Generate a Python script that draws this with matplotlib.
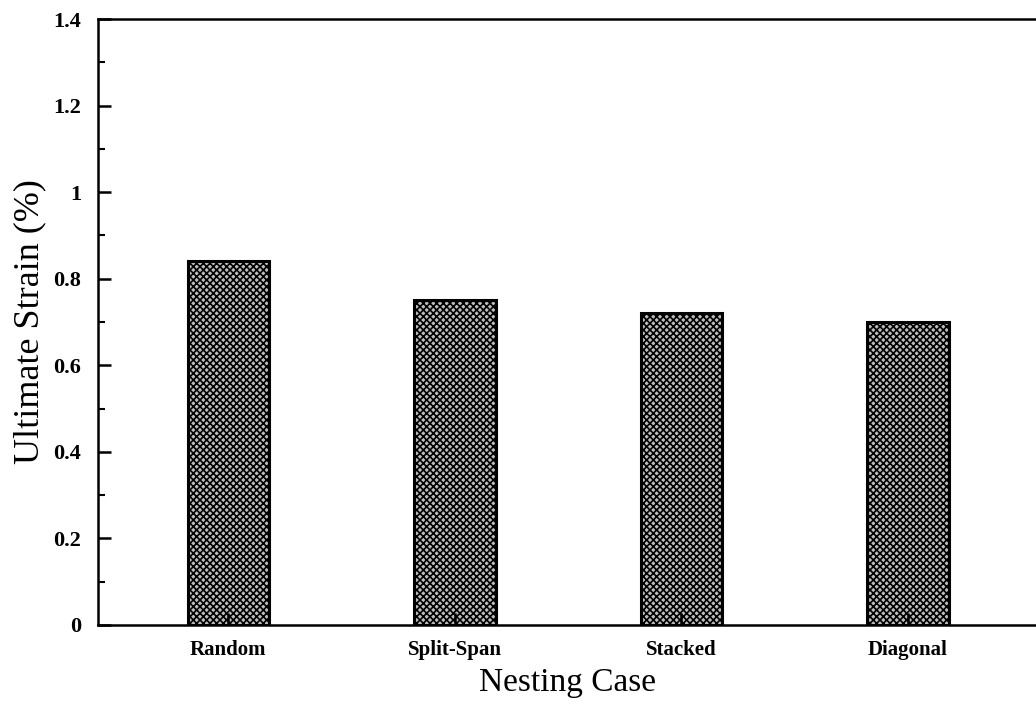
import matplotlib.pyplot as plt
from matplotlib.ticker import MultipleLocator

# 入れ子の種類と極限ひずみ
cases = ['Random', 'Split-Span', 'Stacked', 'Diagonal']
strain = [0.84, 0.75, 0.72, 0.70]

plt.rcParams['font.family'] = ['Liberation Serif', 'DejaVu Serif']
plt.rcParams['hatch.color'] = '#333333'
plt.rcParams['hatch.linewidth'] = 1.2

fig = plt.figure(figsize=(10.36, 7.07), dpi=100)
ax = fig.add_axes([0.0946, 0.116, 0.9054, 0.857])

x = range(len(cases))
ax.bar(x, strain, width=0.36, color='#bdbdbd', edgecolor='black',
       linewidth=2.2, hatch='xxxxx')

ax.set_xlim(-0.575, 3.565)
ax.set_ylim(0, 1.4)
ax.set_xticks(list(x))
ax.set_xticklabels(cases, fontsize=15, fontweight='bold')
ax.yaxis.set_minor_locator(MultipleLocator(0.1))
ax.set_yticks([0, 0.2, 0.4, 0.6, 0.8, 1.0, 1.2, 1.4])
ax.set_yticklabels(['0', '0.2', '0.4', '0.6', '0.8', '1', '1.2', '1.4'],
                   fontsize=16, fontweight='bold')

ax.tick_params(axis='both', which='major', direction='in', length=9, width=1.8)
ax.tick_params(axis='y', which='major', pad=12)
ax.tick_params(axis='x', which='major', pad=11)
ax.tick_params(axis='y', which='minor', direction='in', length=5, width=1.5)

for s in ['left', 'bottom', 'top']:
    ax.spines[s].set_linewidth(1.8)
ax.spines['right'].set_visible(False)

ax.set_xlabel('Nesting Case', fontsize=24, labelpad=5)
ax.set_ylabel('Ultimate Strain (%)', fontsize=26, labelpad=5)

fig.savefig('out.png', dpi=100)
